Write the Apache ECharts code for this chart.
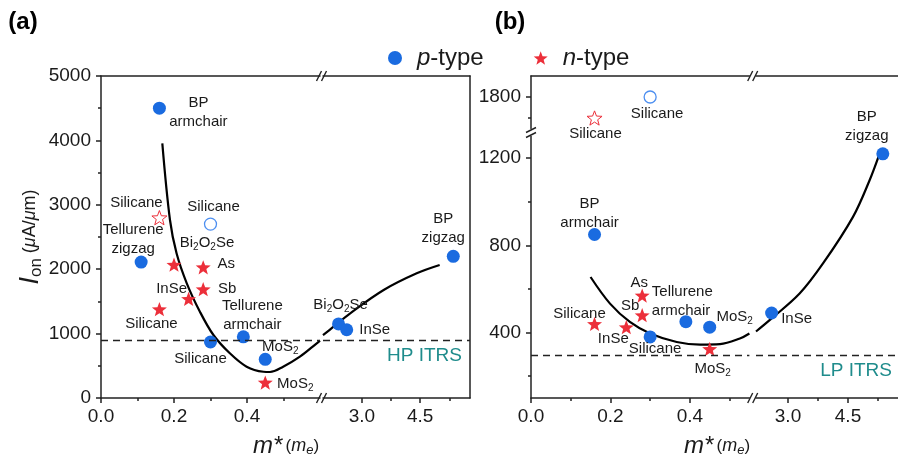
<!DOCTYPE html>
<html>
<head>
<meta charset="utf-8">
<script src="https://cdn.jsdelivr.net/npm/echarts@6/dist/echarts.min.js"></script>
<style>
  html, body { margin: 0; padding: 0; background: #fff; }
  #chart { width: 898px; height: 459px; }
</style>
</head>
<body>
<div id="chart"></div>
<script>
// ===== Panel (a): high-performance devices, on-current vs effective mass =====
const aP_labels = ['BP\narmchair', 'Tellurene\nzigzag', 'Silicane', 'Tellurene\narmchair', 'MoS{s|2}', 'Bi{s|2}O{s|2}Se', 'InSe', 'BP\nzigzag'];
const aP_mass = [0.16, 0.11, 0.30, 0.39, 0.45, 2.40, 2.61, 5.35];
const aP_ion = [4500, 2110, 870, 950, 600, 1150, 1060, 2200];

const aPo_labels = ['Silicane'];
const aPo_mass = [0.30];
const aPo_ion = [2700];

const aN_labels = ['Bi{s|2}O{s|2}Se', 'As', 'Sb', 'InSe', 'Silicane', 'MoS{s|2}'];
const aN_mass = [0.20, 0.28, 0.28, 0.24, 0.16, 0.45];
const aN_ion = [2070, 2030, 1690, 1540, 1380, 240];

const aNo_labels = ['Silicane'];
const aNo_mass = [0.16];
const aNo_ion = [2800];

const aFit_mass = [0.168, 0.189, 0.207, 0.235, 0.271, 0.308, 0.353, 0.399, 0.445, 0.463, 0.499, 0.545, 0.591, 0.600, 2.00, 2.27, 2.70, 3.56, 4.41, 5.00];
const aFit_ion = [3955, 2764, 2247, 1781, 1340, 978, 694, 486, 408, 404, 486, 641, 849, 890, 975, 1107, 1315, 1677, 1936, 2065];

const aITRS = 900;

// ===== Panel (b): low-power devices =====
const bP_labels = ['BP\narmchair', 'Silicane', 'Tellurene\narmchair', 'MoS{s|2}', 'InSe', 'BP\nzigzag'];
const bP_mass = [0.16, 0.30, 0.39, 0.45, 2.59, 5.37];
const bP_ion = [850, 380, 450, 425, 490, 1220];

const bPo_labels = ['Silicane'];
const bPo_mass = [0.30];
const bPo_ion = [1800];

const bN_labels = ['Silicane', 'InSe', 'Sb', 'As', 'MoS{s|2}'];
const bN_mass = [0.16, 0.24, 0.28, 0.28, 0.45];
const bN_ion = [440, 425, 480, 570, 325];

const bNo_labels = ['Silicane'];
const bNo_mass = [0.16];
const bNo_ion = [1600];

const bFit_mass = [0.150, 0.199, 0.249, 0.300, 0.367, 0.426, 0.476, 0.526, 0.550, 2.20, 2.54, 3.29, 3.875, 4.625, 5.04, 5.29];
const bFit_ion = [655, 533, 449, 396, 357, 345, 347, 373, 396, 405, 457, 579, 717, 931, 1099, 1221];

const bITRS = 295;

// ===== Tick values for the broken axes =====
const xLowTicks = [0, 0.2, 0.4];
const xLowMinor = [0.1, 0.3, 0.5];
const xHighTicks = [3.0, 4.5];
const xHighMinor = [3.75, 5.25];
const bYLowTicks = [400, 800, 1200];
const bYLowMinor = [200, 600, 1000];
const bYHighTicks = [1800];
const bYHighMinor = [1600];

// ===== Label placement (label centre offset from the marker, optional alignment) =====
const aP_place = [[39, 4], [-8, -23], [-10, 17], [9, -21], [15, -13], [2, -19], [28, 0], [-10, -28]];
const aPo_place = [[3, -17]];
const aN_place = [[33, -22], [23, -3], [24, 0], [-17, -10], [-8, 15], [30, 1]];
const aNo_place = [[-23, -15]];
const bP_place = [[-5, -21], [5, 12], [-34, -20, 'left'], [25, -10], [25, 6], [-16, -27]];
const bPo_place = [[7, 17]];
const bN_place = [[-15, -10], [-13, 12], [-12, -9], [-3, -13], [3, 20]];
const bNo_place = [[1, 16]];

// ===== Styling =====
const FONT = "'Liberation Sans', Arial, sans-serif";
const INK = '#1a1a1a';
const BLUE = '#1a6be0';
const BLUE_OPEN = '#4d8ff0';
const RED = '#ec2f3a';
const TEAL = '#1f8c8c';

// five-pointed star symbol
function starSymbol() {
  const pts = [];
  for (let i = 0; i < 10; i++) {
    const r = i % 2 === 0 ? 1 : 0.42;
    const ang = -Math.PI / 2 + i * Math.PI / 5;
    pts.push((r * Math.cos(ang)).toFixed(4) + ' ' + (r * Math.sin(ang)).toFixed(4));
  }
  return 'path://M' + pts.join(' L') + ' Z';
}
const STAR = starSymbol();

// Grid boxes (pixels): panel a split in x, panel b split in x and y
const grids = [
  { left: 101, top: 76, width: 219, height: 322 },     // 0: a, low mass
  { left: 323, top: 76, width: 147, height: 322 },     // 1: a, high mass
  { left: 531, top: 136.4, width: 218.4, height: 261.6 }, // 2: b, low mass, lower current
  { left: 756, top: 136.4, width: 144, height: 261.6 },   // 3: b, high mass, lower current
  { left: 531, top: 76, width: 218.4, height: 52.5 },     // 4: b, low mass, upper current
  { left: 756, top: 76, width: 144, height: 52.5 }        // 5: b, high mass, upper current
].map(g => Object.assign({ outerBoundsMode: 'none', containLabel: false }, g));

const lineStyle = { color: '#222', width: 1.5 };
function baseAxis(extra) {
  return Object.assign({
    type: 'value',
    splitLine: { show: false },
    axisLine: { show: false, onZero: false, lineStyle },
    axisTick: { show: false },
    axisLabel: { show: false },
    minorTick: { show: false },
    minorSplitLine: { show: false }
  }, extra);
}
const tickLabel = { show: true, color: INK, fontSize: 19, fontFamily: FONT };

function fmt1(v) { return v.toFixed(1); }
function fmt0(v) { return String(Math.round(v)); }

const xAxis = [
  // 0-3: bottom axes with labels
  baseAxis({ gridIndex: 0, min: 0, max: 0.6, position: 'bottom',
    axisLine: { show: true, onZero: false, lineStyle },
    axisTick: { show: true, customValues: xLowTicks, length: 5, lineStyle },
    axisLabel: Object.assign({ customValues: xLowTicks, formatter: fmt1, margin: 9 }, tickLabel) }),
  baseAxis({ gridIndex: 1, min: 2.0, max: 5.78, position: 'bottom',
    axisLine: { show: true, onZero: false, lineStyle },
    axisTick: { show: true, customValues: xHighTicks, length: 5, lineStyle },
    axisLabel: Object.assign({ customValues: xHighTicks, formatter: fmt1, margin: 9 }, tickLabel) }),
  baseAxis({ gridIndex: 2, min: 0, max: 0.55, position: 'bottom',
    axisLine: { show: true, onZero: false, lineStyle },
    axisTick: { show: true, customValues: xLowTicks, length: 5, lineStyle },
    axisLabel: Object.assign({ customValues: xLowTicks, formatter: fmt1, margin: 9 }, tickLabel) }),
  baseAxis({ gridIndex: 3, min: 2.2, max: 5.8, position: 'bottom',
    axisLine: { show: true, onZero: false, lineStyle },
    axisTick: { show: true, customValues: xHighTicks, length: 5, lineStyle },
    axisLabel: Object.assign({ customValues: xHighTicks, formatter: fmt1, margin: 9 }, tickLabel) }),
  // 4-5: upper part of panel b, top frame line
  baseAxis({ gridIndex: 4, min: 0, max: 0.55, position: 'top', axisLine: { show: true, onZero: false, lineStyle } }),
  baseAxis({ gridIndex: 5, min: 2.2, max: 5.8, position: 'top', axisLine: { show: true, onZero: false, lineStyle } }),
  // 6-7: top frame of panel a
  baseAxis({ gridIndex: 0, min: 0, max: 0.6, position: 'top', axisLine: { show: true, onZero: false, lineStyle } }),
  baseAxis({ gridIndex: 1, min: 2.0, max: 5.78, position: 'top', axisLine: { show: true, onZero: false, lineStyle } }),
  // 8-11: minor ticks
  baseAxis({ gridIndex: 0, min: 0, max: 0.6, position: 'bottom', axisTick: { show: true, customValues: xLowMinor, length: 3, lineStyle } }),
  baseAxis({ gridIndex: 1, min: 2.0, max: 5.78, position: 'bottom', axisTick: { show: true, customValues: xHighMinor, length: 3, lineStyle } }),
  baseAxis({ gridIndex: 2, min: 0, max: 0.55, position: 'bottom', axisTick: { show: true, customValues: xLowMinor, length: 3, lineStyle } }),
  baseAxis({ gridIndex: 3, min: 2.2, max: 5.8, position: 'bottom', axisTick: { show: true, customValues: xHighMinor, length: 3, lineStyle } })
];

const yAxis = [
  // 0: panel a current axis with title
  baseAxis({ gridIndex: 0, min: 0, max: 5000, interval: 1000, position: 'left',
    axisLine: { show: true, onZero: false, lineStyle },
    axisTick: { show: true, length: 5, lineStyle },
    minorTick: { show: true, splitNumber: 2, length: 3, lineStyle },
    axisLabel: Object.assign({ margin: 10, formatter: fmt0 }, tickLabel),
    name: '{i|I}{sub|on} {p|(}{pi|\u03bc}{p|A/}{pi|\u03bc}{p|m)}',
    nameLocation: 'middle', nameRotate: 90, nameGap: 52,
    nameTextStyle: {
      fontFamily: FONT, color: INK, fontSize: 18,
      rich: {
        i: { fontStyle: 'italic', fontSize: 27, fontFamily: FONT, color: INK },
        sub: { fontSize: 17, fontFamily: FONT, color: INK, padding: [12, 0, 0, 0] },
        p: { fontSize: 18, fontFamily: FONT, color: INK },
        pi: { fontSize: 18, fontStyle: 'italic', fontFamily: FONT, color: INK }
      }
    } }),
  // 1: panel a right frame
  baseAxis({ gridIndex: 1, min: 0, max: 5000, position: 'right', axisLine: { show: true, onZero: false, lineStyle } }),
  // 2: panel b lower current axis
  baseAxis({ gridIndex: 2, min: 100, max: 1300, position: 'left',
    axisLine: { show: true, onZero: false, lineStyle },
    axisTick: { show: true, customValues: bYLowTicks, length: 5, lineStyle },
    axisLabel: Object.assign({ customValues: bYLowTicks, margin: 10, formatter: fmt0 }, tickLabel) }),
  // 3: panel b lower, high mass (hidden)
  baseAxis({ gridIndex: 3, min: 100, max: 1300, position: 'right' }),
  // 4: panel b upper current axis
  baseAxis({ gridIndex: 4, min: 1500, max: 2000, position: 'left',
    axisLine: { show: true, onZero: false, lineStyle },
    axisTick: { show: true, customValues: bYHighTicks, length: 5, lineStyle },
    axisLabel: Object.assign({ customValues: bYHighTicks, margin: 10, formatter: fmt0 }, tickLabel) }),
  // 5: panel b upper, high mass (hidden)
  baseAxis({ gridIndex: 5, min: 1500, max: 2000, position: 'right' }),
  // 6-7: minor ticks on panel b
  baseAxis({ gridIndex: 2, min: 100, max: 1300, position: 'left', axisTick: { show: true, customValues: bYLowMinor, length: 3, lineStyle } }),
  baseAxis({ gridIndex: 4, min: 1500, max: 2000, position: 'left', axisTick: { show: true, customValues: bYHighMinor, length: 3, lineStyle } })
];

// which grid a value pair falls into
function gridFor(panel, m, ion) {
  if (panel === 'a') return m < 1 ? 0 : 1;
  return (m < 1 ? 2 : 3) + (ion > 1400 ? 2 : 0);
}

const labelBase = {
  show: true, position: 'inside', color: INK, fontSize: 15, fontFamily: FONT,
  lineHeight: 19, align: 'center', verticalAlign: 'middle', opacity: 1,
  formatter: p => p.data.text,
  rich: { s: { fontSize: 10, fontFamily: FONT, color: INK, padding: [9, 0, 0, 0] } }
};

function scatterGroup(panel, name, mass, ion, labels, place, symbol, size, itemStyle, z) {
  const byGrid = {};
  mass.forEach((m, i) => {
    const g = gridFor(panel, m, ion[i]);
    const pl = place[i];
    (byGrid[g] = byGrid[g] || []).push({
      value: [m, ion[i]],
      text: labels[i],
      label: { offset: [pl[0], pl[1]], align: pl[2] || 'center' }
    });
  });
  return Object.keys(byGrid).map(g => ({
    type: 'scatter', name, xAxisIndex: +g, yAxisIndex: +g,
    symbol, symbolSize: size, symbolKeepAspect: true,
    itemStyle: Object.assign({ opacity: 1 }, itemStyle),
    label: labelBase, data: byGrid[g], z,
    emphasis: { disabled: true }
  }));
}

function fitGroup(panel, mass, ion, itrs, itrsText) {
  const byGrid = {};
  mass.forEach((m, i) => {
    const g = gridFor(panel, m, ion[i]);
    (byGrid[g] = byGrid[g] || []).push([m, ion[i]]);
  });
  const gridsUsed = Object.keys(byGrid).map(Number).sort();
  return gridsUsed.map((g, k) => ({
    type: 'line', name: 'fit', xAxisIndex: g, yAxisIndex: g,
    data: byGrid[g], smooth: 0.35, showSymbol: false, symbol: 'none',
    lineStyle: { color: '#000', width: 2.2 }, z: 2,
    emphasis: { disabled: true },
    markLine: {
      silent: true, symbol: 'none',
      lineStyle: { color: '#222', width: 1.4, type: [7, 5] },
      label: { show: false },
      data: [k === gridsUsed.length - 1
        ? { yAxis: itrs, label: { show: true, formatter: itrsText, position: 'insideEndBottom',
            color: TEAL, fontSize: 19, fontFamily: FONT, distance: [8, 6] } }
        : { yAxis: itrs }]
    }
  }));
}

const pStyle = { color: BLUE };
const pOpen = { color: '#fff', borderColor: BLUE_OPEN, borderWidth: 1.3 };
const nStyle = { color: RED };
const nOpen = { color: '#fff', borderColor: RED, borderWidth: 1 };

const series = [].concat(
  fitGroup('a', aFit_mass, aFit_ion, aITRS, 'HP ITRS'),
  fitGroup('b', bFit_mass, bFit_ion, bITRS, 'LP ITRS'),
  scatterGroup('a', 'p-type', aP_mass, aP_ion, aP_labels, aP_place, 'circle', 13, pStyle, 4),
  scatterGroup('a', 'p-type open', aPo_mass, aPo_ion, aPo_labels, aPo_place, 'circle', 12, pOpen, 4),
  scatterGroup('a', 'n-type', aN_mass, aN_ion, aN_labels, aN_place, STAR, 15, nStyle, 4),
  scatterGroup('a', 'n-type open', aNo_mass, aNo_ion, aNo_labels, aNo_place, STAR, 15, nOpen, 4),
  scatterGroup('b', 'p-type', bP_mass, bP_ion, bP_labels, bP_place, 'circle', 13, pStyle, 4),
  scatterGroup('b', 'p-type open', bPo_mass, bPo_ion, bPo_labels, bPo_place, 'circle', 12, pOpen, 4),
  scatterGroup('b', 'n-type', bN_mass, bN_ion, bN_labels, bN_place, STAR, 15, nStyle, 4),
  scatterGroup('b', 'n-type open', bNo_mass, bNo_ion, bNo_labels, bNo_place, STAR, 15, nOpen, 4)
);

// "//" break marks on the frame
function breakMark(cx, cy, vertical) {
  const children = [];
  if (!vertical) {
    children.push({ type: 'rect', shape: { x: cx - 3, y: cy - 2, width: 6, height: 4 }, style: { fill: '#fff' } });
    [-2.5, 2.5].forEach(o => children.push({ type: 'line',
      shape: { x1: cx + o - 2.5, y1: cy + 5, x2: cx + o + 2.5, y2: cy - 5 },
      style: { stroke: '#222', lineWidth: 1.4 } }));
  } else {
    children.push({ type: 'rect', shape: { x: cx - 2, y: cy - 4, width: 4, height: 8 }, style: { fill: '#fff' } });
    [-2.5, 2.5].forEach(o => children.push({ type: 'line',
      shape: { x1: cx - 5, y1: cy + o + 2.5, x2: cx + 5, y2: cy + o - 2.5 },
      style: { stroke: '#222', lineWidth: 1.4 } }));
  }
  return { type: 'group', z: 100, children };
}

const xTitleRich = {
  m: { fontSize: 24, fontStyle: 'italic', fontFamily: FONT, fill: INK },
  p: { fontSize: 17, fontFamily: FONT, fill: INK },
  pi: { fontSize: 18, fontStyle: 'italic', fontFamily: FONT, fill: INK },
  sub: { fontSize: 13, fontStyle: 'italic', fontFamily: FONT, fill: INK, padding: [9, 0, 0, 0] }
};
function xTitle(cx) {
  return { type: 'text', x: cx, y: 446, z: 100,
    style: { text: '{m|m*} {p|(}{pi|m}{sub|e}{p|)}', rich: xTitleRich, align: 'center', verticalAlign: 'middle', fill: INK, fontFamily: FONT } };
}

const graphic = [
  { type: 'text', x: 23, y: 22, z: 100, style: { text: '(a)', font: "bold 24px 'Liberation Sans', Arial, sans-serif", fill: '#000', align: 'center', verticalAlign: 'middle' } },
  { type: 'text', x: 510, y: 22, z: 100, style: { text: '(b)', font: "bold 24px 'Liberation Sans', Arial, sans-serif", fill: '#000', align: 'center', verticalAlign: 'middle' } },
  xTitle(286),
  xTitle(717),
  breakMark(321.5, 76, false),
  breakMark(321.5, 398, false),
  breakMark(752.7, 76, false),
  breakMark(752.7, 398, false),
  breakMark(531, 132.5, true)
];

const chart = echarts.init(document.getElementById('chart'), null, { renderer: 'canvas' });
chart.setOption({
  animation: false,
  backgroundColor: '#fff',
  textStyle: { fontFamily: FONT },
  legend: {
    data: [{ name: 'p-type', icon: 'circle' }, { name: 'n-type', icon: STAR }],
    left: 383, top: 41, itemWidth: 14, itemHeight: 14, itemGap: 50,
    selectedMode: false,
    formatter: n => n === 'p-type' ? '{i|p}-type' : '{i|n}-type',
    textStyle: {
      fontSize: 24, color: INK, fontFamily: FONT, padding: [0, 0, 0, 10],
      rich: { i: { fontStyle: 'italic', fontSize: 24, color: INK, fontFamily: FONT } }
    }
  },
  grid: grids,
  xAxis,
  yAxis,
  series,
  graphic
});
</script>
</body>
</html>
